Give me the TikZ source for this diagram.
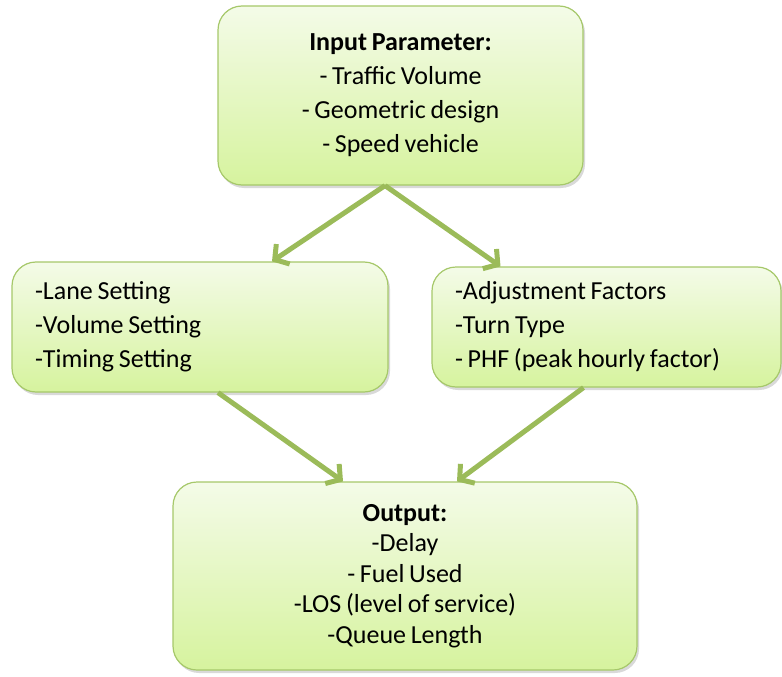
\documentclass[tikz,border=0pt]{standalone}
\usepackage{fontspec}
\setmainfont{Carlito}[WordSpace=0.8]
\usepackage{tikz}
\usetikzlibrary{arrows.meta,positioning,shadows}
\definecolor{leafgreen}{HTML}{9BBB59}
\definecolor{boxline}{HTML}{A6C86A}
\definecolor{boxtop}{HTML}{F4FBE8}
\definecolor{boxbot}{HTML}{D6F39E}

\begin{document}
\begin{tikzpicture}[
        x=1pt, y=-1pt,
        font=\fontsize{26}{34}\selectfont,
        box/.style={draw=boxline, line width=1.2pt, rounded corners=24pt, top color=boxtop, bottom color=boxbot,
            drop shadow={shadow xshift=2pt, shadow yshift=-3pt, opacity=0.3, fill=gray}, inner sep=0pt},
        arr/.style={-{Straight Barb[length=10pt,width=24pt]}, line width=5pt, draw=leafgreen}
    ]
        \useasboundingbox (0,0) rectangle (782,677);
        \node[box, minimum width=365pt, minimum height=179pt, align=center] (input) at (400.5,95.5)
            {\textbf{Input Parameter:}\\- Traffic Volume\\- Geometric design\\- Speed vehicle};
        \node[box, minimum height=130pt, text width=330pt, inner xsep=23pt, align=flush left] (lanes) at (200,327)
            {-Lane Setting\\-Volume Setting\\-Timing Setting};
        \node[box, minimum height=120pt, text width=303pt, inner xsep=23pt, align=flush left] (factors) at (606.5,327)
            {-Adjustment Factors\\-Turn Type\\- PHF (peak hourly factor)};
        \node[box, minimum width=464pt, minimum height=188pt, align=center, font=\fontsize{26}{30.5}\selectfont] (output) at (405,576)
            {\textbf{Output:}\\-Delay\\- Fuel Used\\-LOS (level of service)\\-Queue Length};
        \draw[arr] ([xshift=-15.5pt]input.south) -- ([xshift=72pt]lanes.north);
        \draw[arr] ([xshift=-15.5pt]input.south) -- ([xshift=-106pt]factors.north);
        \draw[arr] ([xshift=18pt]lanes.south) -- ([xshift=-62pt]output.north);
        \draw[arr] ([xshift=-23pt]factors.south) -- ([xshift=52pt]output.north);
    \end{tikzpicture}
\end{document}
